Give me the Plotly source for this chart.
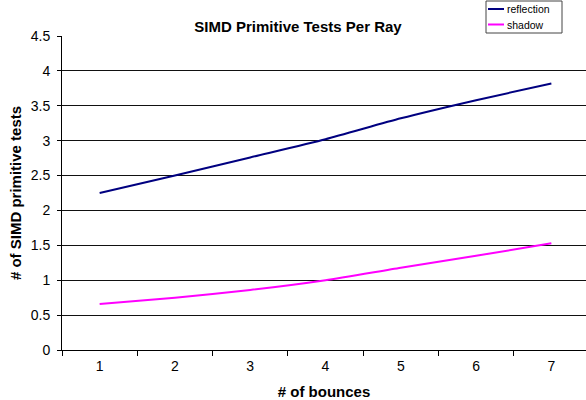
import plotly.graph_objects as go

bounces = ["1", "2", "3", "4", "5", "6", "7"]
reflection = [2.25, 2.50, 2.76, 3.02, 3.32, 3.58, 3.82]
shadow = [0.66, 0.75, 0.86, 1.00, 1.18, 1.35, 1.53]
y_ticks = [0, 0.5, 1, 1.5, 2, 2.5, 3, 3.5, 4, 4.5]
y_tick_labels = ["0", "0.5", "1", "1.5", "2", "2.5", "3", "3.5", "4", "4.5"]
series_names = ["reflection", "shadow"]
series_colors = ["#000080", "#FF00FF"]

fig = go.Figure()
for name, vals, col in zip(series_names, [reflection, shadow], series_colors):
    fig.add_trace(go.Scatter(x=bounces, y=vals, mode="lines", name=name, showlegend=False,
                             line=dict(color=col, width=2, shape="spline", smoothing=0.6)))

# plot area in pixels: x 62..586, y 36..350
def px(x):
    return (x - 62) / 524

def py(y):
    return (350 - y) / 314

shapes = [dict(type="rect", xref="paper", yref="paper", x0=px(486), x1=px(562), y0=py(33), y1=py(1),
               fillcolor="white", line=dict(color="#444444", width=1), layer="above")]
annotations = []
for i, (name, col) in enumerate(zip(series_names, series_colors)):
    yy = 9 + i * 15.5
    shapes.append(dict(type="line", xref="paper", yref="paper", x0=px(488), x1=px(504),
                       y0=py(yy), y1=py(yy), line=dict(color=col, width=2), layer="above"))
    annotations.append(dict(text=name, xref="paper", yref="paper", x=px(504.5), y=py(yy),
                            xanchor="left", yanchor="middle", showarrow=False,
                            font=dict(size=10.5, color="#000000")))

fig.update_layout(
    width=586, height=400,
    margin=dict(l=62, r=0, t=36, b=50),
    paper_bgcolor="white", plot_bgcolor="white",
    font=dict(family="Liberation Sans, Arial", size=14, color="#000000"),
    title=dict(text="<b>SIMD Primitive Tests Per Ray</b>", x=298/586, xanchor="center",
               xref="container", yref="container", y=1-27/400, yanchor="middle",
               font=dict(size=15)),
    showlegend=False,
    shapes=shapes,
    annotations=annotations,
    xaxis=dict(type="category", range=[-0.5, 6.46], showgrid=False,
               showline=True, linecolor="#000000", linewidth=1,
               ticks="outside", ticklen=5, tickcolor="#000000", tickson="boundaries",
               tickfont=dict(size=14), ticklabelstandoff=3,
               title=dict(text="<b># of bounces</b>", font=dict(size=15), standoff=15),
               zeroline=False),
    yaxis=dict(range=[0, 4.5], tickvals=y_ticks, ticktext=y_tick_labels,
               showgrid=True, gridcolor="#111111", gridwidth=1,
               showline=True, linecolor="#000000", linewidth=1,
               ticks="outside", ticklen=4, tickcolor="#000000",
               tickfont=dict(size=14), ticklabelstandoff=4,
               title=dict(text="<b># of SIMD primitive tests</b>", font=dict(size=15), standoff=5),
               zeroline=False),
)

fig.write_html("out.html")
